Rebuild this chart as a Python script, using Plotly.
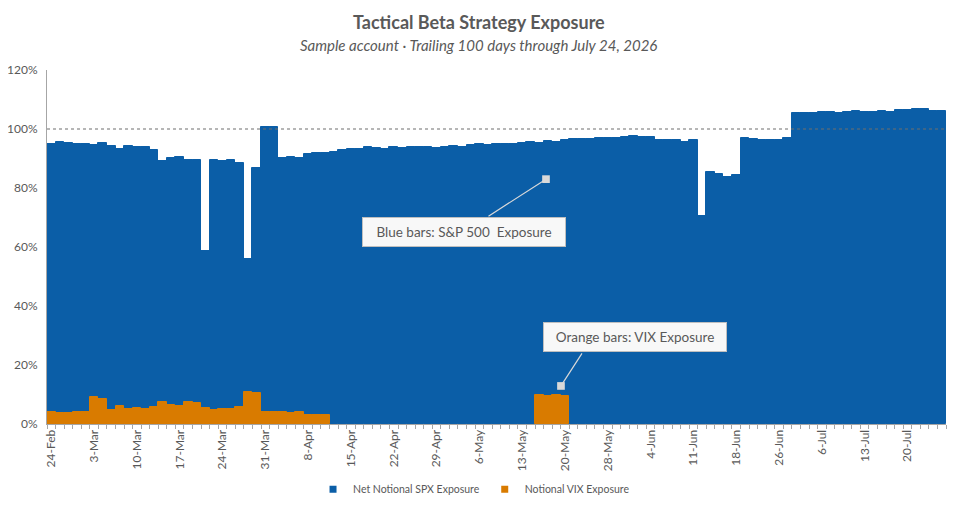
import plotly.graph_objects as go

# trading-day labels shown on the axis, one every 5 sessions
tick_labels = ["24-Feb", "3-Mar", "10-Mar", "17-Mar", "24-Mar", "31-Mar", "8-Apr",
               "15-Apr", "22-Apr", "29-Apr", "6-May", "13-May", "20-May", "28-May",
               "4-Jun", "11-Jun", "18-Jun", "26-Jun", "6-Jul", "13-Jul", "20-Jul"]

# net notional SPX exposure, % of account (105 sessions)
spx = [95.0, 95.6, 95.3, 94.9, 94.9, 94.6, 95.3, 94.2, 93.2, 94.2,
       93.8, 93.8, 92.9, 89.2, 90.2, 90.5, 89.5, 89.5, 58.6, 89.5,
       89.2, 89.5, 88.5, 55.8, 86.8, 100.6, 100.6, 90.2, 90.5, 90.2,
       91.5, 91.9, 91.9, 92.2, 92.9, 93.2, 93.3, 93.8, 93.6, 93.3,
       93.8, 93.6, 93.8, 93.8, 93.8, 93.6, 94.0, 94.1, 93.9, 94.5,
       94.8, 94.6, 94.8, 95.0, 95.0, 95.2, 95.5, 95.2, 95.8, 95.5,
       96.2, 96.5, 96.5, 96.7, 96.8, 97.1, 97.1, 97.2, 97.5, 97.3,
       97.2, 96.4, 96.4, 96.4, 95.7, 96.3, 70.5, 85.4, 84.7, 83.7,
       84.3, 96.8, 96.6, 96.3, 96.3, 96.3, 96.9, 105.3, 105.3, 105.5,
       105.7, 105.7, 105.3, 105.7, 106.0, 105.7, 105.7, 106.0, 105.7, 106.3,
       106.3, 106.7, 106.7, 106.0, 106.0]

# notional VIX exposure, % of account
vix = [4.2, 3.7, 3.7, 4.1, 4.1, 9.3, 8.5, 4.7, 6.2, 5.1,
       5.4, 5.1, 5.9, 7.5, 6.6, 6.2, 7.5, 7.1, 5.4, 4.7,
       5.1, 5.1, 5.8, 10.8, 10.5, 4.1, 4.1, 4.1, 3.7, 4.1,
       3.2, 3.2, 3.2, 0, 0, 0, 0, 0, 0, 0,
       0, 0, 0, 0, 0, 0, 0, 0, 0, 0,
       0, 0, 0, 0, 0, 0, 0, 9.8, 9.5, 9.8,
       9.5, 0, 0, 0, 0, 0, 0, 0, 0, 0,
       0, 0, 0, 0, 0, 0, 0, 0, 0, 0,
       0, 0, 0, 0, 0, 0, 0, 0, 0, 0,
       0, 0, 0, 0, 0, 0, 0, 0, 0, 0,
       0, 0, 0, 0, 0]

days = list(range(len(spx)))
tick_pos = days[::5][:len(tick_labels)]
vix_bars = [v if v else None for v in vix]  # no bar at all where there is no VIX position

BLUE = "#0B5EA7"
ORANGE = "#D97B00"
GREY_TXT = "#595959"
FONT = "Lato, 'Open Sans', sans-serif"

fig = go.Figure()
fig.add_trace(go.Bar(x=days, y=spx, name="Net Notional SPX Exposure", showlegend=False,
                     marker=dict(color=BLUE, line=dict(color=BLUE, width=1))))
fig.add_trace(go.Bar(x=days, y=vix_bars, name="Notional VIX Exposure", showlegend=False,
                     marker=dict(color=ORANGE, line=dict(color=ORANGE, width=1))))
# small square legend keys
for nm, col in [("Net Notional SPX Exposure", BLUE), ("Notional VIX Exposure", ORANGE)]:
    fig.add_trace(go.Scatter(x=[None], y=[None], mode="markers", name=nm,
                             marker=dict(symbol="square", size=7, color=col)))

# 100% reference line
fig.add_shape(type="line", xref="paper", x0=0, x1=1, yref="y", y0=100, y1=100,
              line=dict(color="#6E6E6E", width=1.1, dash="3px,3px"), layer="above")

# callout arrows (square heads) and their boxes
for hx, hy, ax, ay in [(57.78, 83.0, -59, 38), (59.53, 12.9, 22, -34)]:
    fig.add_annotation(x=hx, y=hy, xref="x", yref="y", text="", showarrow=True,
                       ax=ax, ay=ay, arrowhead=7, arrowsize=1.6, arrowwidth=1.2,
                       arrowcolor="#D9D9D9", standoff=0)
for bx, by, txt, w in [(48.2, 65.1, "Blue bars: S&P 500\u00a0 Exposure", 196),
                       (68.2, 29.5, "Orange bars: VIX Exposure", 176)]:
    fig.add_annotation(x=bx, y=by, xref="x", yref="y", text=txt, showarrow=False,
                       width=w, height=22, borderpad=3, borderwidth=1,
                       bordercolor="#BFBFBF", bgcolor="#F8F8F8",
                       font=dict(size=13.5, color=GREY_TXT, family=FONT))

# title + subtitle
fig.add_annotation(x=0.48, y=1.136, xref="paper", yref="paper", showarrow=False,
                   yanchor="middle", text="<b>Tactical Beta Strategy Exposure</b>",
                   font=dict(size=18, color=GREY_TXT, family=FONT))
fig.add_annotation(x=0.48, y=1.071, xref="paper", yref="paper", showarrow=False,
                   yanchor="middle",
                   text="<i>Sample account · Trailing 100 days through July 24, 2026</i>",
                   font=dict(size=15, color=GREY_TXT, family=FONT))

# page body has an 8px margin, so the figure is shrunk by that much
fig.update_layout(
    width=947, height=501,
    margin=dict(l=39, r=9, t=62, b=85, autoexpand=False),
    barmode="overlay", bargap=0,
    plot_bgcolor="white", paper_bgcolor="white",
    font=dict(family=FONT, color=GREY_TXT, size=11),
    showlegend=True,
    legend=dict(orientation="h", x=0.475, xanchor="center", y=-0.184, yanchor="middle",
                font=dict(size=10.5, color=GREY_TXT), traceorder="normal",
                itemwidth=30, tracegroupgap=0),
)
fig.update_xaxes(range=[-0.5, len(spx) - 0.5], tickmode="array", tickvals=tick_pos,
                 ticktext=tick_labels, tickangle=-90, ticks="", showgrid=False,
                 showline=True, linecolor="#A6A6A6", linewidth=1, automargin=False,
                 tickfont=dict(size=12, color=GREY_TXT),
                 minor=dict(ticks="outside", tickmode="linear", tick0=-0.5, dtick=1,
                            ticklen=4, tickcolor="#A6A6A6", showgrid=False))
fig.update_yaxes(range=[0, 120], dtick=20, ticksuffix="%", showgrid=False,
                 showline=True, linecolor="#A6A6A6", linewidth=1, ticks="",
                 zeroline=False, ticklabelstandoff=6, automargin=False,
                 tickfont=dict(size=12, color=GREY_TXT))

fig.write_html("out.html")
